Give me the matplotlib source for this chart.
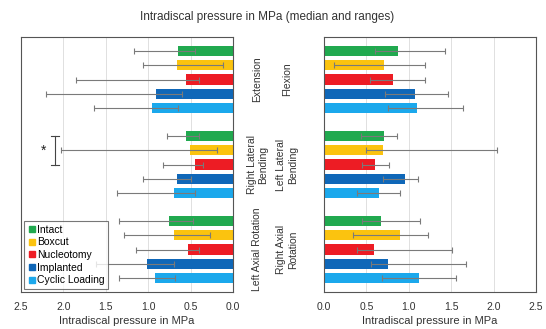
import numpy as np
import matplotlib
matplotlib.use("Agg")
import matplotlib.pyplot as plt
from matplotlib.lines import Line2D

plt.rcParams['font.family'] = ['Liberation Sans', 'DejaVu Sans']

conditions = ["Intact", "Boxcut", "Nucleotomy", "Implanted", "Cyclic Loading"]
colors = ["#21a94f", "#fbc30f", "#ed1c24", "#0f67b8", "#1ba8ec"]

# Left panel motions
left_motions = ["Extension", "Right Lateral\nBending", "Left Axial Rotation"]
median_ext = [0.645, 0.66, 0.55, 0.91, 0.95]
min_ext = [0.45, 0.12, 0.40, 0.60, 0.65]
max_ext = [1.17, 1.06, 1.85, 2.20, 1.64]
median_rlb = [0.55, 0.51, 0.45, 0.66, 0.70]
min_rlb = [0.40, 0.19, 0.35, 0.50, 0.45]
max_rlb = [0.78, 2.03, 0.83, 1.06, 1.37]
median_lar = [0.76, 0.70, 0.53, 1.01, 0.92]
min_lar = [0.47, 0.27, 0.40, 0.70, 0.68]
max_lar = [1.34, 1.29, 1.14, 1.61, 1.34]

# Right panel motions
right_motions = ["Flexion", "Left Lateral\nBending", "Right Axial\nRotation"]
median_flex = [0.876, 0.71, 0.81, 1.07, 1.10]
min_flex = [0.60, 0.12, 0.54, 0.72, 0.75]
max_flex = [1.43, 1.19, 1.19, 1.46, 1.64]
median_llb = [0.71, 0.70, 0.60, 0.95, 0.65]
min_llb = [0.44, 0.50, 0.45, 0.70, 0.39]
max_llb = [0.86, 2.04, 0.77, 1.11, 0.90]
median_rar = [0.67, 0.90, 0.59, 0.75, 1.12]
min_rar = [0.45, 0.34, 0.39, 0.55, 0.68]
max_rar = [1.13, 1.23, 1.51, 1.68, 1.56]

xticks = [0.0, 0.5, 1.0, 1.5, 2.0, 2.5]
xlabel = "Intradiscal pressure in MPa"
title = "Intradiscal pressure in MPa (median and ranges)"

left_data = [(median_ext, min_ext, max_ext),
             (median_rlb, min_rlb, max_rlb),
             (median_lar, min_lar, max_lar)]
right_data = [(median_flex, min_flex, max_flex),
              (median_llb, min_llb, max_llb),
              (median_rar, min_rar, max_rar)]

fig = plt.figure(figsize=(5.46, 3.29), dpi=100)
fig.patch.set_facecolor("white")
axL = fig.add_axes([21 / 546, 1 - 292 / 329, 212 / 546, 255 / 329])
axR = fig.add_axes([324 / 546, 1 - 292 / 329, 212 / 546, 255 / 329])

slot = 6
bar_h = 0.72


def draw_panel(ax, data, motions):
    for g, (med, lo, hi) in enumerate(data):
        for j in range(len(conditions)):
            y = g * slot + 1 + j
            ax.barh(y, med[j], height=bar_h, color=colors[j], zorder=2)
            ax.errorbar(med[j], y,
                        xerr=[[med[j] - lo[j]], [hi[j] - med[j]]],
                        fmt="none", ecolor="#7a7a7a", elinewidth=0.8,
                        capsize=2, capthick=0.8, zorder=3)
    ax.set_ylim(len(data) * slot, 0)
    ax.set_yticks([g * slot + 3 for g in range(len(data))])
    ax.set_yticklabels(motions, rotation=90, va="center", ha="center",
                       fontsize=7.5, color="#333333")
    ax.set_xticks(xticks)
    ax.set_xticklabels([f"{t:.1f}" for t in xticks], fontsize=7.5,
                       color="#333333")
    ax.tick_params(axis="both", length=0)
    ax.tick_params(axis="x", pad=7)
    ax.grid(axis="x", color="#e0e0e0", linewidth=0.7, zorder=0)
    ax.set_axisbelow(True)
    for s in ax.spines.values():
        s.set_color("#555555")
        s.set_linewidth(0.8)
    ax.set_xlabel(xlabel, fontsize=8, color="#333333", labelpad=3)


draw_panel(axL, left_data, left_motions)
draw_panel(axR, right_data, right_motions)

axL.set_xlim(2.5, 0)
axL.yaxis.tick_right()
axL.tick_params(axis="y", pad=17.5)
axR.set_xlim(0, 2.5)
axR.tick_params(axis="y", pad=26.5)

# Significance bracket between Intact and Nucleotomy in right lateral bending
bx = 2.10
y0, y1 = slot + 1, slot + 3
axL.plot([bx, bx], [y0, y1], color="#444444", lw=0.8, zorder=4)
axL.plot([bx - 0.05, bx + 0.05], [y0, y0], color="#444444", lw=0.8, zorder=4)
axL.plot([bx - 0.05, bx + 0.05], [y1, y1], color="#444444", lw=0.8, zorder=4)
axL.text(2.24, slot + 2, "*", ha="center", va="center", fontsize=10,
         color="#222222")

handles = [Line2D([0], [0], marker="s", linestyle="none", markersize=4,
                  markerfacecolor=c, markeredgecolor=c) for c in colors]
leg = axL.legend(handles, conditions, loc="lower left", fontsize=7.5,
                 frameon=True, fancybox=False, handletextpad=0.1,
                 handlelength=0.8, borderpad=0.35, labelspacing=0.25,
                 borderaxespad=0.3)
leg.get_frame().set_edgecolor("#555555")
leg.get_frame().set_linewidth(0.8)

fig.text(267 / 546, 1 - 17 / 329, title, ha="center", va="center",
         fontsize=8.5, color="#333333")

fig.savefig("out.png", dpi=100, facecolor="white")
